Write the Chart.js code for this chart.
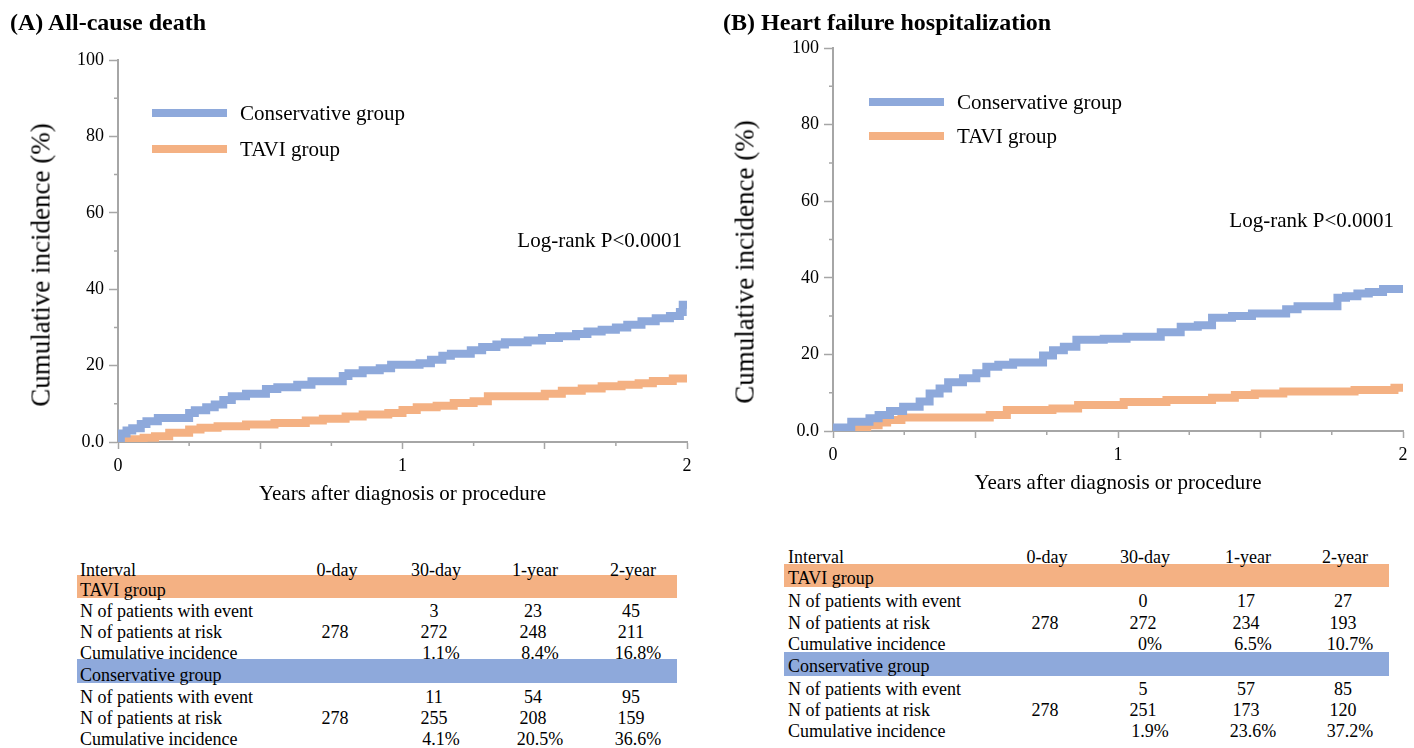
<!DOCTYPE html>
<html>
<head>
<meta charset="utf-8">
<script src="https://cdn.jsdelivr.net/npm/chart.js@4.4.0/dist/chart.umd.min.js"></script>
<style>
  body { margin: 0; background: #fff; }
  #page { position: relative; width: 1414px; height: 748px; overflow: hidden;
          font-family: 'Liberation Serif', 'Times New Roman', serif; color: #000; }
  canvas { position: absolute; }
  .t { position: absolute; white-space: nowrap; line-height: 1; }
</style>
</head>
<body>
<div id="page">
  <canvas id="chartA" width="707" height="520" style="left:0;top:0"></canvas>
  <canvas id="chartB" width="707" height="509" style="left:707px;top:0"></canvas>
</div>
<script>
// ---- data ----
// (A) all-cause death, step curves: years after diagnosis / cumulative incidence %
const deathConsYears = [0, 0.01, 0.03, 0.05, 0.08, 0.10, 0.14, 0.25, 0.27, 0.31, 0.34, 0.37, 0.40, 0.45, 0.52, 0.56, 0.63, 0.68, 0.79, 0.81, 0.86, 0.92, 0.96, 1.06, 1.10, 1.14, 1.17, 1.24, 1.28, 1.33, 1.36, 1.44, 1.49, 1.55, 1.61, 1.65, 1.70, 1.75, 1.79, 1.84, 1.89, 1.94, 1.975, 1.985, 2.0];
const deathConsInc   = [0, 2.2, 3.0, 3.6, 4.7, 5.4, 6.3, 7.6, 8.3, 9.1, 9.8, 11.0, 12.0, 12.6, 13.9, 14.3, 15.0, 15.9, 17.3, 18.0, 18.8, 19.3, 20.2, 20.6, 21.5, 22.6, 23.1, 24.0, 24.9, 25.5, 26.1, 26.6, 27.2, 27.7, 28.3, 28.9, 29.4, 30.0, 30.7, 31.6, 32.4, 33.0, 34.0, 35.9, 35.9];
const deathTaviYears = [0, 0.02, 0.05, 0.09, 0.13, 0.18, 0.25, 0.29, 0.35, 0.45, 0.55, 0.66, 0.72, 0.80, 0.86, 0.95, 1.00, 1.05, 1.12, 1.18, 1.25, 1.30, 1.50, 1.56, 1.63, 1.70, 1.77, 1.83, 1.88, 1.95, 2.0];
const deathTaviInc   = [0, 0.4, 0.7, 1.1, 1.5, 2.4, 3.3, 3.7, 4.1, 4.6, 5.0, 5.6, 6.1, 6.7, 7.2, 7.6, 8.4, 9.1, 9.5, 10.2, 10.7, 12.0, 12.6, 13.4, 14.0, 14.6, 15.0, 15.4, 16.0, 16.6, 16.6];

// (B) heart failure hospitalization
const hfConsYears = [0, 0.005, 0.064, 0.128, 0.16, 0.20, 0.246, 0.304, 0.339, 0.374, 0.404, 0.456, 0.503, 0.538, 0.58, 0.632, 0.737, 0.772, 0.81, 0.854, 0.95, 1.03, 1.15, 1.22, 1.28, 1.33, 1.40, 1.47, 1.59, 1.63, 1.77, 1.80, 1.84, 1.88, 1.93, 2.0];
const hfConsInc   = [0, 0.9, 2.4, 3.3, 4.2, 5.2, 6.3, 7.7, 9.8, 11.1, 12.7, 13.8, 15.1, 16.8, 17.3, 17.9, 19.7, 21.1, 22.0, 23.8, 24.1, 24.6, 25.8, 27.2, 27.6, 29.6, 30.0, 30.7, 31.8, 32.6, 34.8, 35.2, 35.9, 36.3, 37.1, 37.1];
const hfTaviYears = [0, 0.08, 0.12, 0.16, 0.19, 0.24, 0.55, 0.61, 0.77, 0.86, 1.02, 1.17, 1.33, 1.41, 1.48, 1.58, 1.83, 1.97, 2.0];
const hfTaviInc   = [0, 0.5, 1.5, 2.2, 2.9, 3.5, 4.2, 5.5, 5.9, 6.8, 7.6, 8.1, 8.7, 9.4, 9.8, 10.3, 10.7, 11.3, 11.3];

const yTicks = [0, 20, 40, 60, 80, 100];
const xTickLabels = [0, 1, 2];

// tables
const intervalLabels = ['0-day', '30-day', '1-year', '2-year'];
const rowLabels = ['N of patients with event', 'N of patients at risk', 'Cumulative incidence'];
const deathTaviEvents = ['', '3', '23', '45'];
const deathTaviAtRisk = ['278', '272', '248', '211'];
const deathTaviCumInc = ['', '1.1%', '8.4%', '16.8%'];
const deathConsEvents = ['', '11', '54', '95'];
const deathConsAtRisk = ['278', '255', '208', '159'];
const deathConsCumInc = ['', '4.1%', '20.5%', '36.6%'];
const hfTaviEvents = ['', '0', '17', '27'];
const hfTaviAtRisk = ['278', '272', '234', '193'];
const hfTaviCumInc = ['', '0%', '6.5%', '10.7%'];
const hfConsEvents = ['', '5', '57', '85'];
const hfConsAtRisk = ['278', '251', '173', '120'];
const hfConsCumInc = ['', '1.9%', '23.6%', '37.2%'];

// ---- styling ----
const BLUE = '#8EA9DB';
const ORANGE = '#F4B183';
const GREY = '#A6A6A6';
const SERIF = "'Liberation Serif', 'Times New Roman', serif";
Chart.defaults.font.family = SERIF;
Chart.defaults.color = '#000';

const page = document.getElementById('page');

function text(str, x, y, size, opts = {}) {
  const d = document.createElement('div');
  d.className = 't';
  d.textContent = str;
  d.style.fontSize = size + 'px';
  d.style.left = x + 'px';
  d.style.top = y + 'px';
  if (opts.bold) d.style.fontWeight = 'bold';
  let tf = 'translateY(-50%)';
  if (opts.align === 'center') tf = 'translate(-50%,-50%)';
  if (opts.align === 'right') tf = 'translate(-100%,-50%)';
  if (opts.rotate) tf = 'translate(-50%,-50%) rotate(-90deg)';
  d.style.transform = tf;
  page.appendChild(d);
}

function rect(x, y, w, h, color) {
  const d = document.createElement('div');
  d.style.cssText = `position:absolute;left:${x}px;top:${y}px;width:${w}px;height:${h}px;background:${color}`;
  page.appendChild(d);
}

function pts(xs, ys) {
  return xs.map((x, i) => ({ x: x, y: ys[i] }));
}

// short minor ticks between the labelled ones
const minorTicks = {
  id: 'minorTicks',
  afterDraw(chart) {
    const { ctx, chartArea, scales } = chart;
    ctx.save();
    ctx.strokeStyle = GREY;
    ctx.lineWidth = 1.5;
    ctx.beginPath();
    [10, 30, 50, 70, 90].forEach(v => {
      const y = scales.y.getPixelForValue(v);
      ctx.moveTo(chartArea.left - 4, y);
      ctx.lineTo(chartArea.left, y);
    });
    [0.25, 0.75, 1.25, 1.75].forEach(v => {
      const x = scales.x.getPixelForValue(v);
      ctx.moveTo(x, chartArea.bottom);
      ctx.lineTo(x, chartArea.bottom + 4);
    });
    ctx.stroke();
    ctx.restore();
  }
};

function makeChart(id, cons, tavi, box) {
  new Chart(document.getElementById(id), {
    type: 'line',
    data: {
      datasets: [
        { label: 'Conservative group', data: cons, borderColor: BLUE, borderWidth: 8,
          stepped: 'before', pointRadius: 0, fill: false, borderCapStyle: 'butt' },
        { label: 'TAVI group', data: tavi, borderColor: ORANGE, borderWidth: 8,
          stepped: 'before', pointRadius: 0, fill: false, borderCapStyle: 'butt' }
      ]
    },
    options: {
      responsive: false,
      animation: false,
      devicePixelRatio: 1,
      layout: { padding: { top: box.top, right: box.right, left: 0, bottom: 0 } },
      plugins: { legend: { display: false }, tooltip: { enabled: false } },
      scales: {
        x: {
          type: 'linear', min: 0, max: 2,
          afterFit: s => { s.height = 78; },
          afterBuildTicks: s => { s.ticks = [0, 0.5, 1, 1.5, 2].map(v => ({ value: v })); },
          ticks: {
            autoSkip: false, maxRotation: 0, padding: 6, font: { size: 18 },
            callback: v => xTickLabels.includes(v) ? String(v) : ''
          },
          grid: { drawOnChartArea: false, tickLength: 7, tickColor: GREY, tickWidth: 1.5 },
          border: { color: GREY, width: 2 },
          title: { display: true, text: 'Years after diagnosis or procedure',
                   font: { size: 21 }, padding: { top: 0, bottom: 13 } }
        },
        y: {
          min: 0, max: 100,
          afterFit: s => { s.width = box.left; },
          afterBuildTicks: s => { s.ticks = yTicks.map(v => ({ value: v })); },
          ticks: { padding: 5, font: { size: 18 }, callback: v => v === 0 ? '0.0' : String(v) },
          grid: { drawOnChartArea: false, tickLength: 9, tickColor: GREY, tickWidth: 1.5 },
          border: { color: GREY, width: 2 }
        }
      }
    },
    plugins: [minorTicks]
  });
}

makeChart('chartA', pts(deathConsYears, deathConsInc), pts(deathTaviYears, deathTaviInc),
  { left: 118, top: 60, right: 20 });
makeChart('chartB', pts(hfConsYears, hfConsInc), pts(hfTaviYears, hfTaviInc),
  { left: 126, top: 48, right: 11 });

// ---- titles, legends, annotations ----
function panelText(p) {
  text(p.title, p.titleX, 22, 24, { bold: true });
  text('Cumulative incidence (%)', p.yTitleX, p.yTitleY, 27, { rotate: true });
  rect(p.legX, p.legY1 - 4, 75, 8, BLUE);
  rect(p.legX, p.legY2 - 4, 75, 8, ORANGE);
  text('Conservative group', p.legX + 88, p.legY1, 21);
  text('TAVI group', p.legX + 88, p.legY2, 21);
  text('Log-rank P<0.0001', p.logX, p.logY, 21, { align: 'right' });
}
panelText({ title: '(A) All-cause death', titleX: 10, yTitleX: 41, yTitleY: 265,
  legX: 152, legY1: 113, legY2: 149, logX: 682, logY: 240 });
panelText({ title: '(B) Heart failure hospitalization', titleX: 723, yTitleX: 745, yTitleY: 262,
  legX: 869, legY1: 102, legY2: 136, logX: 1394, logY: 220 });

// ---- number-at-risk tables ----
function table(t) {
  rect(t.bandX, t.taviBand, t.bandW, 23, ORANGE);
  rect(t.bandX, t.consBand, t.bandW, 24, BLUE);
  const fs = 18;
  text('Interval', t.labelX, t.rows[0], fs);
  intervalLabels.forEach((s, i) => text(s, t.cols[i], t.rows[0], fs, { align: 'center' }));
  text('TAVI group', t.labelX, t.rows[1], fs);
  text('Conservative group', t.labelX, t.rows[5], fs);
  const groups = [[2, t.tavi], [6, t.cons]];
  groups.forEach(([r0, g]) => {
    g.forEach((vals, k) => {
      text(rowLabels[k], t.labelX, t.rows[r0 + k], fs);
      vals.forEach((v, i) => {
        if (v !== '') text(v, t.cols[i] + (k === 2 ? 5 : -2), t.rows[r0 + k], fs, { align: 'center' });
      });
    });
  });
}
table({
  labelX: 80, bandX: 77, bandW: 600, taviBand: 575, consBand: 659,
  cols: [337, 436, 535, 633],
  rows: [570, 590, 611, 632, 653, 675, 697, 718, 739],
  tavi: [deathTaviEvents, deathTaviAtRisk, deathTaviCumInc],
  cons: [deathConsEvents, deathConsAtRisk, deathConsCumInc]
});
table({
  labelX: 788, bandX: 784, bandW: 605, taviBand: 564, consBand: 652,
  cols: [1047, 1145, 1248, 1345],
  rows: [557, 578, 601, 623, 644, 666, 689, 710, 731],
  tavi: [hfTaviEvents, hfTaviAtRisk, hfTaviCumInc],
  cons: [hfConsEvents, hfConsAtRisk, hfConsCumInc]
});
</script>
</body>
</html>
